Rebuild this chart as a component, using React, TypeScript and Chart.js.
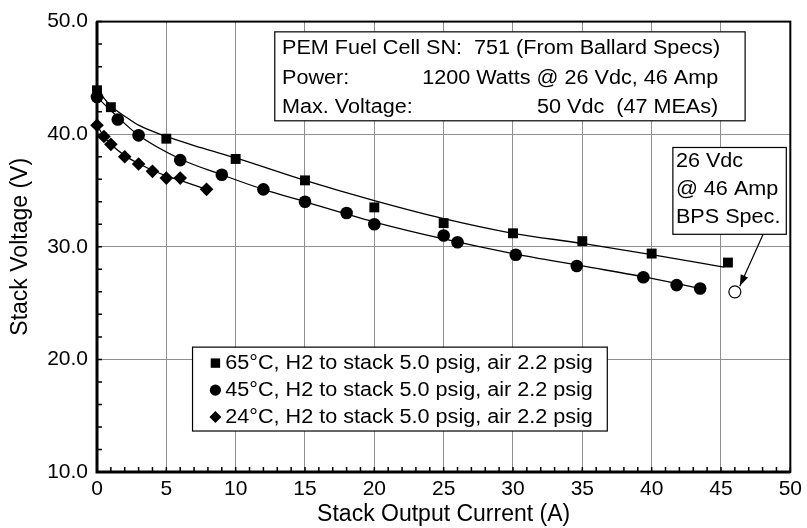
import React, { useEffect, useRef } from "react";
import { Chart, registerables } from "chart.js";

Chart.register(...registerables);

// ---- data ----
const current65 = [0, 1, 5, 10, 15, 20, 25, 30, 35, 40, 45.5];
const voltage65 = [43.9, 42.4, 39.6, 37.8, 35.9, 33.5, 32.1, 31.2, 30.5, 29.4, 28.6];

const current45 = [0, 1.5, 3, 6, 9, 12, 15, 18, 20, 25, 26, 30.2, 34.6, 39.4, 41.8, 43.5];
const voltage45 = [43.3, 41.3, 39.9, 37.7, 36.4, 35.1, 34.0, 33.0, 32.0, 31.0, 30.4, 29.3, 28.3, 27.3, 26.6, 26.3];

const current24 = [0, 0.5, 1, 2, 3, 4, 5, 6, 7.9];
const voltage24 = [40.8, 39.8, 39.1, 38.0, 37.35, 36.7, 36.1, 36.1, 35.1];

// trend curves as traced on the reference
const fitCurrent65 = [0, 1, 2, 3, 5, 7.5, 10, 15, 20, 25, 30, 35, 40, 45.2];
const fitVoltage65 = [44.0, 42.5, 41.6, 40.8, 39.8, 38.8, 37.9, 35.9, 34.1, 32.5, 31.2, 30.3, 29.3, 28.2];
const fitCurrent45 = [0, 1, 3, 6, 9, 12, 15, 18, 20, 25, 30, 35, 40, 43.5];
const fitVoltage45 = [43.3, 42.1, 39.9, 37.8, 36.4, 35.1, 34.0, 32.9, 32.2, 30.7, 29.4, 28.3, 27.2, 26.3];
const fitCurrent24 = [0, 0.5, 1, 2, 3, 4, 5, 6, 7.9];
const fitVoltage24 = [40.8, 39.8, 39.1, 38.1, 37.4, 36.8, 36.3, 35.9, 35.1];

// BPS spec point
const specCurrent = [46];
const specVoltage = [26];

const legendLabels = [
  "65°C, H2 to stack 5.0 psig, air 2.2 psig",
  "45°C, H2 to stack 5.0 psig, air 2.2 psig",
  "24°C, H2 to stack 5.0 psig, air 2.2 psig",
];
const infoLabels = ["PEM Fuel Cell SN:  751 (From Ballard Specs)", "Power:", "Max. Voltage:"];
const infoValues = ["", "1200 Watts @ 26 Vdc, 46 Amp", "50 Vdc  (47 MEAs)"];
const specLines = ["26 Vdc", "@ 46 Amp", "BPS Spec."];

const xTitle = "Stack Output Current (A)";
const yTitle = "Stack Voltage (V)";

const X_MIN = 0, X_MAX = 50, X_STEP = 5, X_MINOR = 1;
const Y_MIN = 10, Y_MAX = 50, Y_STEP = 10, Y_MINOR = 2;

const FONT = "'Liberation Sans', Arial, Helvetica, sans-serif";
const TEXT_SIZE = 20;
const TEXT_STRETCH = 1.08;

function pts(xs: number[], ys: number[]) {
  return xs.map((x, i) => ({ x, y: ys[i] }));
}

function drawText(ctx: CanvasRenderingContext2D, text: string, x: number, y: number, align: CanvasTextAlign) {
  ctx.save();
  ctx.translate(x, y);
  ctx.scale(TEXT_STRETCH, 1);
  ctx.font = `${TEXT_SIZE}px ${FONT}`;
  ctx.fillStyle = "#000";
  ctx.textAlign = align;
  ctx.textBaseline = "middle";
  ctx.fillText(text, 0, 0);
  ctx.restore();
}

function box(ctx: CanvasRenderingContext2D, x1: number, y1: number, x2: number, y2: number) {
  ctx.save();
  ctx.fillStyle = "#fff";
  ctx.fillRect(x1, y1, x2 - x1, y2 - y1);
  ctx.strokeStyle = "#000";
  ctx.lineWidth = 1.2;
  ctx.strokeRect(x1, y1, x2 - x1, y2 - y1);
  ctx.restore();
}

const decorPlugin = {
  id: "decor",
  beforeDatasetsDraw(chart: any) {
    const { ctx, chartArea: a } = chart;
    const xs = chart.scales.x;
    const ys = chart.scales.y;
    const X = (v: number) => xs.getPixelForValue(v);
    const Y = (v: number) => ys.getPixelForValue(v);
    ctx.save();
    // inside tick marks
    ctx.strokeStyle = "#000";
    ctx.lineWidth = 1.5;
    ctx.beginPath();
    for (let v = X_MIN; v <= X_MAX; v += X_MINOR) {
      const p = X(v);
      ctx.moveTo(p, a.bottom);
      ctx.lineTo(p, a.bottom - 5);
    }
    for (let v = Y_MIN; v <= Y_MAX; v += Y_MINOR) {
      const p = Y(v);
      ctx.moveTo(a.left, p);
      ctx.lineTo(a.left + 5, p);
    }
    ctx.stroke();
    // frame
    ctx.lineWidth = 2;
    ctx.strokeRect(a.left, a.top, a.right - a.left, a.bottom - a.top);
    ctx.lineWidth = 3;
    ctx.beginPath();
    ctx.moveTo(a.left, a.top);
    ctx.lineTo(a.left, a.bottom);
    ctx.lineTo(a.right, a.bottom);
    ctx.stroke();

    // info box (top)
    box(ctx, X(12.82), Y(49.09), X(46.74), Y(41.19));
    const infoRows = [47.65, 44.99, 42.33];
    infoLabels.forEach((t, i) => {
      drawText(ctx, t, X(13.34), Y(infoRows[i]), "left");
      if (infoValues[i]) drawText(ctx, infoValues[i], X(44.8), Y(infoRows[i]), "right");
    });

    // legend box
    box(ctx, X(6.89), Y(21.09), X(36.8), Y(13.64));
    const legRows = [19.67, 17.27, 14.88];
    const mx = X(8.54);
    ctx.fillStyle = "#000";
    let my = Y(legRows[0]);
    ctx.fillRect(mx - 4.7, my - 4.7, 9.4, 9.4);
    my = Y(legRows[1]);
    ctx.beginPath();
    ctx.arc(mx, my, 5.6, 0, Math.PI * 2);
    ctx.fill();
    my = Y(legRows[2]);
    ctx.beginPath();
    ctx.moveTo(mx, my - 6);
    ctx.lineTo(mx + 6, my);
    ctx.lineTo(mx, my + 6);
    ctx.lineTo(mx - 6, my);
    ctx.closePath();
    ctx.fill();
    legendLabels.forEach((t, i) => drawText(ctx, t, X(9.25), Y(legRows[i]), "left"));

    // spec box
    box(ctx, X(41.53), Y(38.82), X(49.71), Y(31.11));
    const specRows = [37.58, 35.1, 32.62];
    specLines.forEach((t, i) => drawText(ctx, t, X(41.75), Y(specRows[i]), "left"));
    ctx.restore();
  },
  afterDatasetsDraw(chart: any) {
    const { ctx } = chart;
    const xs = chart.scales.x;
    const ys = chart.scales.y;
    const x1 = xs.getPixelForValue(48.04), y1 = ys.getPixelForValue(31.11);
    const x2 = xs.getPixelForValue(46.36), y2 = ys.getPixelForValue(26.52);
    ctx.save();
    ctx.strokeStyle = "#000";
    ctx.fillStyle = "#000";
    ctx.lineWidth = 1.2;
    ctx.beginPath();
    ctx.moveTo(x1, y1);
    ctx.lineTo(x2, y2);
    ctx.stroke();
    const ang = Math.atan2(y2 - y1, x2 - x1);
    const L = 11, W = 4;
    ctx.beginPath();
    ctx.moveTo(x2, y2);
    ctx.lineTo(x2 - L * Math.cos(ang) + W * Math.sin(ang), y2 - L * Math.sin(ang) - W * Math.cos(ang));
    ctx.lineTo(x2 - L * Math.cos(ang) - W * Math.sin(ang), y2 - L * Math.sin(ang) + W * Math.cos(ang));
    ctx.closePath();
    ctx.fill();
    ctx.restore();
  },
};

export default function App() {
  const ref = useRef<HTMLCanvasElement>(null);
  useEffect(() => {
    if (!ref.current) return;
    Chart.defaults.color = "#000";
    const lineDs = (xs: number[], ys: number[]) => ({
      type: "line" as const,
      data: pts(xs, ys),
      borderColor: "#000",
      borderWidth: 1.3,
      pointRadius: 0,
      fill: false,
      cubicInterpolationMode: "monotone" as const,
      order: 2,
    });
    const markerDs = (xs: number[], ys: number[], style: any, r: number) => ({
      type: "scatter" as const,
      data: pts(xs, ys),
      pointStyle: style,
      pointRadius: r,
      pointBackgroundColor: "#000",
      pointBorderColor: "#000",
      pointBorderWidth: 0,
      showLine: false,
      clip: false as any,
      order: 1,
    });
    const chart = new Chart(ref.current, {
      type: "scatter",
      data: {
        datasets: [
          lineDs(fitCurrent65, fitVoltage65),
          lineDs(fitCurrent45, fitVoltage45),
          lineDs(fitCurrent24, fitVoltage24),
          markerDs(current65, voltage65, "rect", 7),
          markerDs(current45, voltage45, "circle", 6.3),
          markerDs(current24, voltage24, "rectRot", 6.8),
          {
            type: "scatter",
            data: pts(specCurrent, specVoltage),
            pointStyle: "circle",
            pointRadius: 6,
            pointBackgroundColor: "#fff",
            pointBorderColor: "#000",
            pointBorderWidth: 1.2,
            clip: false as any,
            order: 0,
          },
        ] as any,
      },
      options: {
        responsive: false,
        animation: false,
        devicePixelRatio: 1,
        layout: { padding: { left: 0, right: 13, top: 21, bottom: 0 } },
        plugins: { legend: { display: false }, tooltip: { enabled: false } },
        scales: {
          x: {
            type: "linear",
            min: X_MIN,
            max: X_MAX,
            ticks: { stepSize: X_STEP, padding: 5, font: { family: FONT, size: 21 }, color: "#000", maxRotation: 0 },
            grid: { color: "#8f8f8f", lineWidth: 1, drawTicks: false },
            border: { display: false },
            title: { display: true, text: xTitle, font: { family: FONT, size: 23, lineHeight: 1.2 }, color: "#000", padding: { top: 0, bottom: 0 } },
            afterFit: (s: any) => { s.height = 56; },
          },
          y: {
            type: "linear",
            min: Y_MIN,
            max: Y_MAX,
            ticks: { stepSize: Y_STEP, padding: 9, font: { family: FONT, size: 21 }, color: "#000", callback: (v: any) => Number(v).toFixed(1) },
            grid: { color: "#8f8f8f", lineWidth: 1, drawTicks: false },
            border: { display: false },
            title: { display: true, text: yTitle, font: { family: FONT, size: 23, lineHeight: 1.2 }, color: "#000", padding: { top: 7, bottom: 0 } },
            afterFit: (s: any) => { s.width = 97; },
          },
        },
      },
      plugins: [decorPlugin],
    });
    return () => chart.destroy();
  }, []);
  return (
    <div style={{ position: "absolute", left: 0, top: 0, width: 807, height: 528, background: "#fff" }}>
      <canvas ref={ref} width={807} height={528} style={{ width: 807, height: 528, display: "block" }} />
    </div>
  );
}
